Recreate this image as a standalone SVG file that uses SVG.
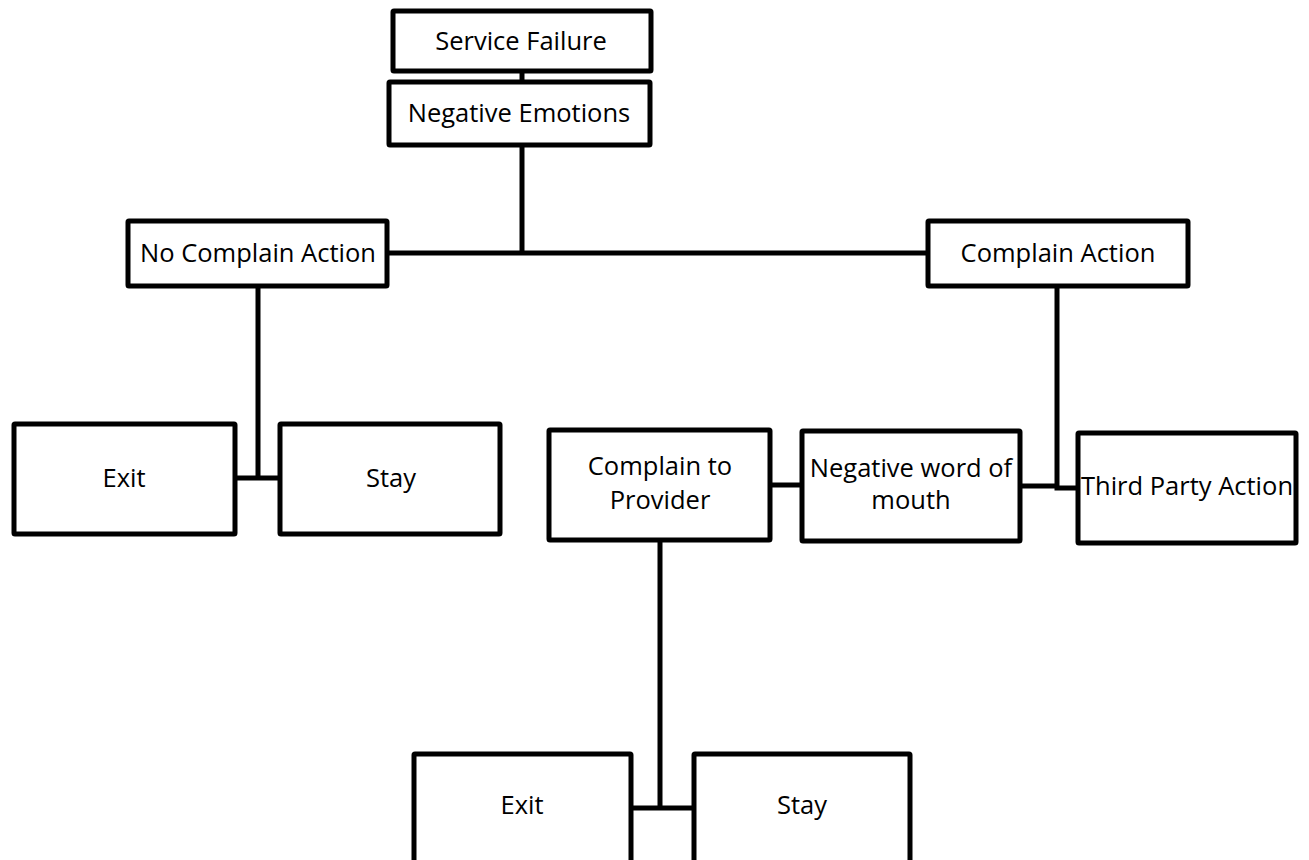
<svg xmlns="http://www.w3.org/2000/svg" width="1309" height="860" viewBox="0 0 1309 860">
  <style>
    .box { fill: #ffffff; stroke: #000000; stroke-width: 5; stroke-linejoin: round; }
    .link { fill: none; stroke: #000000; stroke-width: 5; stroke-linejoin: miter; }
    .label { font-family: "Open Sans", "Liberation Sans", sans-serif; font-size: 25.5px; fill: #000000; text-anchor: middle; }
  </style>
  <rect width="1309" height="860" fill="#ffffff"/>

  <!-- connectors -->
  <g id="connectors">
    <path class="link" d="M522,72 V82"/>
    <path class="link" d="M522,146 V253"/>
    <path class="link" d="M388,253 H928"/>
    <path class="link" d="M258,287 V478"/>
    <path class="link" d="M236,478 H280"/>
    <path class="link" d="M1057,287 V488 H1078"/>
    <path class="link" d="M1021,486 H1057"/>
    <path class="link" d="M771,485 H801"/>
    <path class="link" d="M660,541 V808"/>
    <path class="link" d="M632,808 H694"/>
  </g>

  <g id="service-failure">
    <rect class="box" x="393" y="11" width="258" height="60" rx="1"/>
    <text class="label" x="521" y="50">Service Failure</text>
  </g>
  <g id="negative-emotions">
    <rect class="box" x="389" y="82" width="261" height="63" rx="1"/>
    <text class="label" x="519" y="122">Negative Emotions</text>
  </g>
  <g id="no-complain-action">
    <rect class="box" x="128" y="221" width="259" height="65" rx="1"/>
    <text class="label" x="258" y="262">No Complain Action</text>
  </g>
  <g id="complain-action">
    <rect class="box" x="928" y="221" width="260" height="65" rx="1"/>
    <text class="label" x="1058" y="262">Complain Action</text>
  </g>
  <g id="exit-left">
    <rect class="box" x="14" y="424" width="221" height="110" rx="1"/>
    <text class="label" x="124" y="487">Exit</text>
  </g>
  <g id="stay-left">
    <rect class="box" x="280" y="424" width="220" height="110" rx="1"/>
    <text class="label" x="391" y="487">Stay</text>
  </g>
  <g id="complain-to-provider">
    <rect class="box" x="549" y="430" width="221" height="110" rx="1"/>
    <text class="label" x="660" y="475">Complain to</text>
    <text class="label" x="660" y="509">Provider</text>
  </g>
  <g id="negative-word-of-mouth">
    <rect class="box" x="802" y="431" width="218" height="110" rx="1"/>
    <text class="label" x="911" y="477">Negative word of</text>
    <text class="label" x="911" y="509">mouth</text>
  </g>
  <g id="third-party-action">
    <rect class="box" x="1078" y="433" width="218" height="110" rx="1"/>
    <text class="label" x="1187" y="495">Third Party Action</text>
  </g>
  <g id="exit-bottom">
    <rect class="box" x="414" y="754" width="217" height="110" rx="1"/>
    <text class="label" x="522" y="814">Exit</text>
  </g>
  <g id="stay-bottom">
    <rect class="box" x="694" y="754" width="216" height="110" rx="1"/>
    <text class="label" x="802" y="814">Stay</text>
  </g>
</svg>
